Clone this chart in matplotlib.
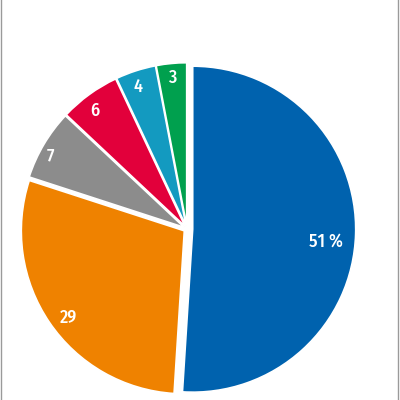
import numpy as np
import matplotlib.pyplot as plt
from matplotlib.lines import Line2D
from matplotlib.transforms import offset_copy

# Data
values = [51, 29, 7, 6, 4, 3]
labels = ["51 %", "29", "7", "6", "4", "3"]
colors = ["#0062ae", "#ef8200", "#8c8c8c", "#e2003b", "#139ac0", "#00a04e"]

# per-slice offset and label distance (as fraction of radius)
explode = [0.035, 0.02, 0.02, 0.02, 0.02, 0.02]
label_dist = [0.82, 0.86, 0.95, 0.94, 0.95, 0.96]

fig = plt.figure(figsize=(4, 4), dpi=100)
ax = fig.add_axes([0, 0, 1, 1])

wedges, _ = ax.pie(values, colors=colors, startangle=90, counterclock=False,
                   explode=explode,
                   wedgeprops=dict(edgecolor="white", linewidth=1.2))

# labels sit a little below the slice's mid line
lab_trans = offset_copy(ax.transData, fig=fig, x=0, y=-8, units="dots")
for w, lab, d in zip(wedges, labels, label_dist):
    mid = np.deg2rad((w.theta1 + w.theta2) / 2)
    cx, cy = w.center
    ax.text(cx + d * np.cos(mid), cy + d * np.sin(mid), lab,
            ha="center", va="center", color="white", fontsize=13,
            family=["Fira Sans Condensed", "DejaVu Sans"], weight="medium",
            transform=lab_trans)

# place pie: center ~ (187, 229) px, radius ~163 px
scale = 163.0
xmin = -187 / scale
ymax = 229 / scale
span = 400 / scale
ax.set_xlim(xmin, xmin + span)
ax.set_ylim(ymax - span, ymax)
ax.set_aspect("equal")
ax.axis("off")

# thin grey frame lines at the sides
for x in (0.002, 0.996):
    fig.add_artist(Line2D([x, x], [0, 1], transform=fig.transFigure,
                          color="#9a9a9a", linewidth=1.0))

fig.savefig("out.png", dpi=100, facecolor="white")
